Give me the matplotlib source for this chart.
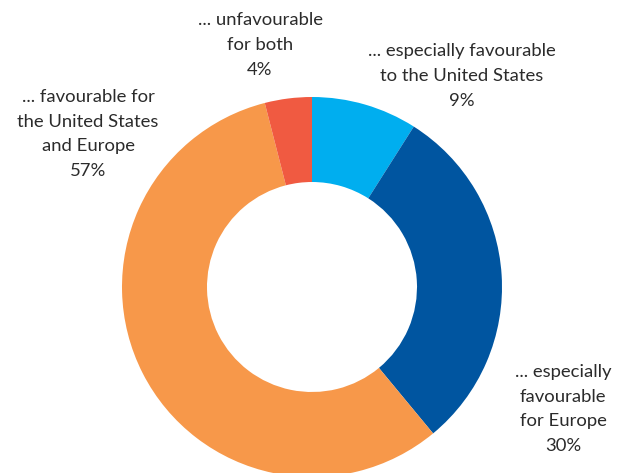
import matplotlib.pyplot as plt

plt.rcParams['font.family'] = ['Lato', 'DejaVu Sans']

# slices clockwise from 12 o'clock
shares = [9, 30, 57, 4]
colors = ['#00AEEF', '#0055A0', '#F7984A', '#F05A41']
labels = ['... especially favourable\nto the United States\n9%',
          '... especially\nfavourable\nfor Europe\n30%',
          '... favourable for\nthe United States\nand Europe\n57%',
          '... unfavourable\nfor both\n4%']
label_pos = [(462, 76), (563, 409), (88, 134), (260, 45)]

W, H = 622, 473
fig = plt.figure(figsize=(W / 100, H / 100), dpi=100)
ax = fig.add_axes([0, 0, 1, 1])

cx, cy, r = 312, H - 287, 190
ax.pie(shares, colors=colors, startangle=90, counterclock=False,
       center=(cx, cy), radius=r, frame=True,
       wedgeprops=dict(width=85, edgecolor='none'))
ax.set_xlim(0, W)
ax.set_ylim(0, H)
ax.set_aspect('equal')
ax.axis('off')

for lab, (x, y) in zip(labels, label_pos):
    ax.text(x, H - y, lab, ha='center', va='center', fontsize=13.3,
            color='#2b2b2b', linespacing=1.68)

fig.savefig('out.png', dpi=100, facecolor='white')
